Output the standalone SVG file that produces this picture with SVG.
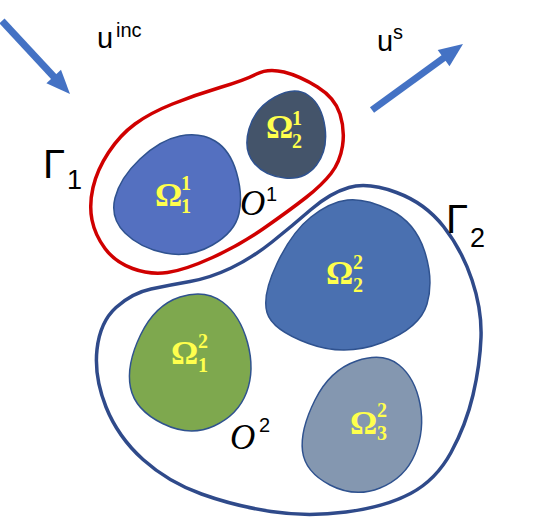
<svg xmlns="http://www.w3.org/2000/svg" width="537" height="518" viewBox="0 0 537 518">
<style>
.bnd{fill:none;stroke-width:3.5}
.blob{stroke:#2F528F;stroke-width:1.5}
.om{font-family:"Liberation Serif",serif;font-weight:bold;fill:#FFFF4D}
.big{font-size:34px}
.sm{font-size:20px}
.lbl{font-family:"Liberation Sans",sans-serif;fill:#000}
.it{font-family:"Liberation Serif",serif;font-style:italic;font-size:35px;fill:#000}
.arr{fill:#4472C4}
</style>
<rect width="537" height="518" fill="#fff"/>
<g id="connectors">
<g id="incident-arrow">
<line x1="2" y1="21" x2="55" y2="78" stroke="#4472C4" stroke-width="7"/>
<polygon class="arr" points="70,94 46.4,83.3 61,69.7"/>
</g>
<g id="scattered-arrow">
<line x1="372" y1="110" x2="445" y2="57" stroke="#4472C4" stroke-width="7"/>
<polygon class="arr" points="463,44 437.7,50 449.5,66.2"/>
</g>
</g>
<g id="gamma1">
<path class="bnd" stroke="#D00000" d="M256.5,74 Q268,68 284,72 Q300,76 317.5,87 Q335,98 340,114 Q345,130 342.5,146 Q340,162 331,173.5 Q322,185 306,197.5 Q290,210 265,227.5 Q240,245 212.5,257.5 Q185,270 167.5,272.5 Q150,275 132.5,268.5 Q115,262 105,248.5 Q95,235 92,220 Q89,205 93,187.5 Q97,170 108.5,152.5 Q120,135 135,124 Q150,113 172.5,104 Q195,95 220,87.5 Q245,80 256.5,74 Z"/>
</g>
<g id="gamma2">
<path class="bnd" stroke="#2F4A8A" d="M349,187.5 Q368,182 396.5,192.5 Q425,203 443.5,226.5 Q462,250 472,280 Q482,310 481,337.5 Q480,365 473,395 Q466,425 451,452.5 Q436,480 410.5,493.5 Q385,507 346,512 Q307,517 271,511.5 Q235,506 201.5,494 Q168,482 143,459.5 Q118,437 106,407 Q94,377 97,349.5 Q100,322 116,307.5 Q132,293 151,289 Q170,285 190,281.5 Q210,278 231,268 Q252,258 272,242 Q292,226 311,209.5 Q330,193 349,187.5 Z"/>
</g>
<g id="omega11">
<path class="blob" fill="#5470C0" d="M180,136 Q200,132 215,141 Q230,150 236.5,172.5 Q243,195 239,213.5 Q235,232 212.5,245 Q190,258 165,253 Q140,248 125,233 Q110,218 115,198 Q120,178 140,159 Q160,140 180,136 Z"/>
<text class="om big" x="155" y="206">Ω</text><text class="om sm" x="181" y="190">1</text><text class="om sm" x="181" y="213">1</text>
</g>
<g id="omega21">
<path class="blob" fill="#44546A" d="M275,97 Q295,86 308.5,95.5 Q322,105 325,127.5 Q328,150 316.5,165 Q305,180 285,178 Q265,176 254,163 Q243,150 249,129 Q255,108 275,97 Z"/>
<text class="om big" x="266" y="138">Ω</text><text class="om sm" x="292" y="125">1</text><text class="om sm" x="292" y="148">2</text>
</g>
<g id="omega22">
<path class="blob" fill="#4A70B0" d="M347.5,200 Q365,198 390,210 Q415,222 424.5,251 Q434,280 427,304 Q420,328 382.5,342.5 Q345,357 308.5,343.5 Q272,330 267,312.5 Q262,295 277,263.5 Q292,232 311,217 Q330,202 347.5,200 Z"/>
<text class="om big" x="326" y="284">Ω</text><text class="om sm" x="353" y="269">2</text><text class="om sm" x="353" y="292">2</text>
</g>
<g id="omega12">
<path class="blob" fill="#7EA84E" d="M180,297 Q205,289 222.5,302 Q240,315 247.5,342.5 Q255,370 246.5,392.5 Q238,415 214,426 Q190,437 162.5,423.5 Q135,410 130.5,387.5 Q126,365 140.5,335 Q155,305 180,297 Z"/>
<text class="om big" x="171" y="364">Ω</text><text class="om sm" x="198" y="348">2</text><text class="om sm" x="198" y="372">1</text>
</g>
<g id="omega32">
<path class="blob" fill="#8497B0" d="M356.5,361 Q383,352 399,365 Q415,378 420,404 Q425,430 415,454 Q405,478 380,488 Q355,498 330,485 Q305,472 302.5,451 Q300,430 315,400 Q330,370 356.5,361 Z"/>
<text class="om big" x="350" y="434">Ω</text><text class="om sm" x="377" y="417">2</text><text class="om sm" x="377" y="440">3</text>
</g>
<g id="labels">
<text class="lbl" font-size="29" x="97" y="48">u</text><text class="lbl" font-size="20" x="116" y="37">inc</text>
<text class="lbl" font-size="29" x="377" y="51">u</text><text class="lbl" font-size="20" x="393" y="39">s</text>
<text class="lbl" font-size="40" x="43" y="178">Γ</text><text class="lbl" font-size="27" x="67" y="189">1</text>
<text class="lbl" font-size="40" x="446" y="233">Γ</text><text class="lbl" font-size="27" x="470" y="247">2</text>
<text class="it" x="240" y="215">O</text><text class="lbl" font-size="20" x="266" y="201">1</text>
<text class="it" x="230" y="449">O</text><text class="lbl" font-size="20" x="259" y="432">2</text>
</g>
</svg>
